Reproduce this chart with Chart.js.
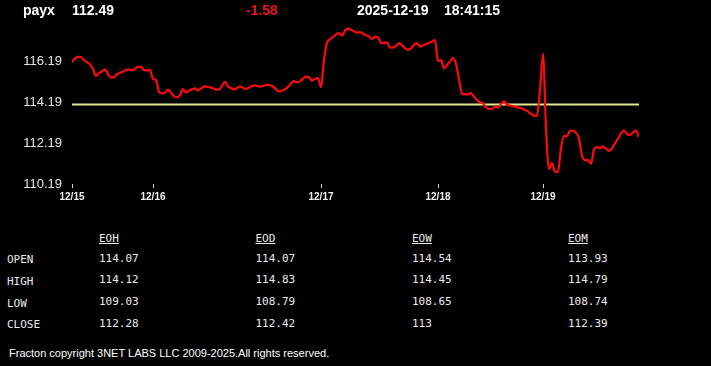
<!DOCTYPE html>
<html>
<head>
<meta charset="utf-8">
<script src="https://cdn.jsdelivr.net/npm/chart.js@4.4.1/dist/chart.umd.min.js"></script>
<style>
  html, body { margin: 0; padding: 0; background: #000; }
  body { width: 711px; height: 366px; position: relative; overflow: hidden; }
  #price-chart { position: absolute; left: 0; top: 0; }
  .hdr { position: absolute; top: 3px; font: bold 14px "Liberation Sans", Arial, sans-serif; line-height: 14px; color: #fff; white-space: nowrap; }
  .tbl { position: absolute; font: 11px "DejaVu Sans Mono", monospace; line-height: 11px; color: #ececec; white-space: nowrap; }
  .tbl.head { text-decoration: underline; }
  #footer { position: absolute; left: 9px; top: 348px; font: 11px "Liberation Sans", Arial, sans-serif; line-height: 11px; color: #fff; white-space: nowrap; }
</style>
</head>
<body>
<canvas id="price-chart" width="711" height="210"></canvas>
<div id="header"></div>
<div id="table"></div>
<div id="footer">Fracton copyright 3NET LABS LLC 2009-2025.All rights reserved.</div>

<script>
// quote header
const symbol = "payx";
const lastPrice = "112.49";
const change = "-1.58";
const quoteDate = "2025-12-19";
const quoteTime = "18:41:15";
const prevClose = 114.07;

// intraday closes, one per bar (12/15 .. 12/19)
const closes = [
  116.14, 116.32, 116.40, 116.39, 116.22, 116.14, 116.03, 115.80, 115.47, 115.60,
  115.68, 115.79, 115.56, 115.38, 115.40, 115.56, 115.61, 115.68, 115.76, 115.78,
  115.74, 115.81, 115.91, 115.91, 115.75, 115.74, 115.75, 115.32, 115.26, 114.69,
  114.61, 114.64, 114.80, 114.65, 114.47, 114.42, 114.53, 114.82, 114.65, 114.75,
  114.81, 114.86, 114.75, 114.85, 114.94, 114.94, 114.91, 114.86, 114.80, 114.79,
  114.98, 115.18, 114.95, 114.87, 114.82, 114.88, 114.94, 114.89, 114.83, 114.90,
  114.98, 115.00, 114.96, 114.95, 115.00, 115.03, 115.01, 114.95, 114.82, 114.70,
  114.75, 114.81, 114.93, 115.09, 115.21, 115.16, 115.20, 115.33, 115.43, 115.40,
  115.24, 115.33, 115.36, 114.92, 116.24, 117.09, 117.25, 117.37, 117.48, 117.56,
  117.43, 117.67, 117.77, 117.72, 117.64, 117.58, 117.60, 117.52, 117.45, 117.39,
  117.27, 117.37, 117.35, 117.08, 117.07, 117.11, 116.86, 116.85, 116.93, 117.07,
  116.97, 116.82, 116.75, 116.80, 116.98, 117.07, 116.89, 116.96, 117.02, 117.08,
  117.15, 117.21, 116.19, 116.24, 115.83, 116.00, 116.17, 116.35, 116.06, 115.31,
  114.60, 114.56, 114.56, 114.63, 114.45, 114.29, 114.18, 114.13, 113.94, 113.85,
  113.86, 113.96, 113.92, 114.10, 114.22, 114.06, 114.02, 113.99, 113.95, 113.91,
  113.88, 113.80, 113.72, 113.62, 113.53, 113.52, 114.78, 116.53, 112.92, 110.92,
  111.21, 110.79, 110.78, 111.95, 112.53, 112.53, 112.79, 112.79, 112.69, 112.41,
  111.58, 111.36, 111.36, 111.18, 111.85, 111.99, 111.93, 112.03, 111.92, 111.80,
  111.93, 112.18, 112.40, 112.65, 112.81, 112.62, 112.59, 112.71, 112.80, 112.48
];

// x axis: first bar of each day
const dateLabels = ["12/15", "12/16", "12/17", "12/18", "12/19"];
const dateTickIdx = [0, 27, 83, 122, 157];

// y axis tick labels
const yTickValues = [110.19, 112.19, 114.19, 116.19];

// summary table
const periodNames = ["EOH", "EOD", "EOW", "EOM"];
const rowNames = ["OPEN", "HIGH", "LOW", "CLOSE"];
const openVals = ["114.07", "114.07", "114.54", "113.93"];
const highVals = ["114.12", "114.83", "114.45", "114.79"];
const lowVals = ["109.03", "108.79", "108.65", "108.74"];
const closeVals = ["112.28", "112.42", "113", "112.39"];

// header line
const header = document.getElementById("header");
[
  [symbol, 23, "#fff"],
  [lastPrice, 72, "#fff"],
  [change, 246, "#f01414"],
  [quoteDate, 357, "#fff"],
  [quoteTime, 444, "#fff"],
].forEach(([txt, left, color]) => {
  const d = document.createElement("div");
  d.className = "hdr";
  d.style.left = left + "px";
  d.style.color = color;
  d.textContent = txt;
  header.appendChild(d);
});

// table
const table = document.getElementById("table");
const addCell = (txt, left, top, cls) => {
  const d = document.createElement("div");
  d.className = "tbl" + (cls ? " " + cls : "");
  d.style.left = left + "px";
  d.style.top = top + "px";
  d.textContent = txt;
  table.appendChild(d);
};
const colX = [99, 255.5, 412, 568];
const rowY = [252.5, 274.3, 296.1, 317.9];
periodNames.forEach((p, i) => addCell(p, colX[i], 233, "head"));
[openVals, highVals, lowVals, closeVals].forEach((vals, r) => {
  addCell(rowNames[r], 7, rowY[r] + 1.5);
  vals.forEach((v, c) => addCell(v, colX[c], rowY[r]));
});

// chart
const priceData = {
  datasets: [
    {
      label: symbol,
      data: closes.map((v, i) => ({ x: i, y: v })),
      borderColor: "#ff0a0a",
      borderWidth: 2.2,
      pointRadius: 0,
      cubicInterpolationMode: "monotone",
      tension: 0.3,
    },
    {
      label: "prev close",
      data: [
        { x: 0, y: prevClose },
        { x: closes.length - 1, y: prevClose },
      ],
      borderColor: "#e2ea8e",
      borderWidth: 2,
      pointRadius: 0,
    },
  ],
};

new Chart(document.getElementById("price-chart"), {
  type: "line",
  data: priceData,
  options: {
    responsive: false,
    animation: false,
    devicePixelRatio: 1,
    layout: { padding: { top: 24, right: 72, left: 0, bottom: 0 } },
    plugins: { legend: { display: false }, tooltip: { enabled: false } },
    scales: {
      x: {
        type: "linear",
        min: 0,
        max: closes.length - 1,
        border: { display: false },
        grid: { drawOnChartArea: false, drawTicks: true, tickLength: 4, color: "#d0d0d0", lineWidth: 1 },
        afterBuildTicks: (s) => { s.ticks = dateTickIdx.map((v) => ({ value: v })); },
        afterFit: (s) => { s.height = 26; },
        ticks: {
          autoSkip: false,
          maxRotation: 0,
          minRotation: 0,
          padding: 3,
          color: "#f0f0f0",
          font: { family: "Liberation Sans", size: 10, weight: "bold" },
          callback: (v, i) => dateLabels[i],
        },
      },
      y: {
        min: 110.19,
        max: 118.0,
        border: { display: false },
        grid: { display: false, drawTicks: false },
        afterBuildTicks: (s) => { s.ticks = yTickValues.map((v) => ({ value: v })); },
        afterFit: (s) => { s.width = 72; },
        ticks: {
          padding: 10,
          color: "#e6e6e6",
          font: { family: "Liberation Sans", size: 13 },
          callback: (v) => v.toFixed(2),
        },
      },
    },
  },
});
</script>
</body>
</html>
